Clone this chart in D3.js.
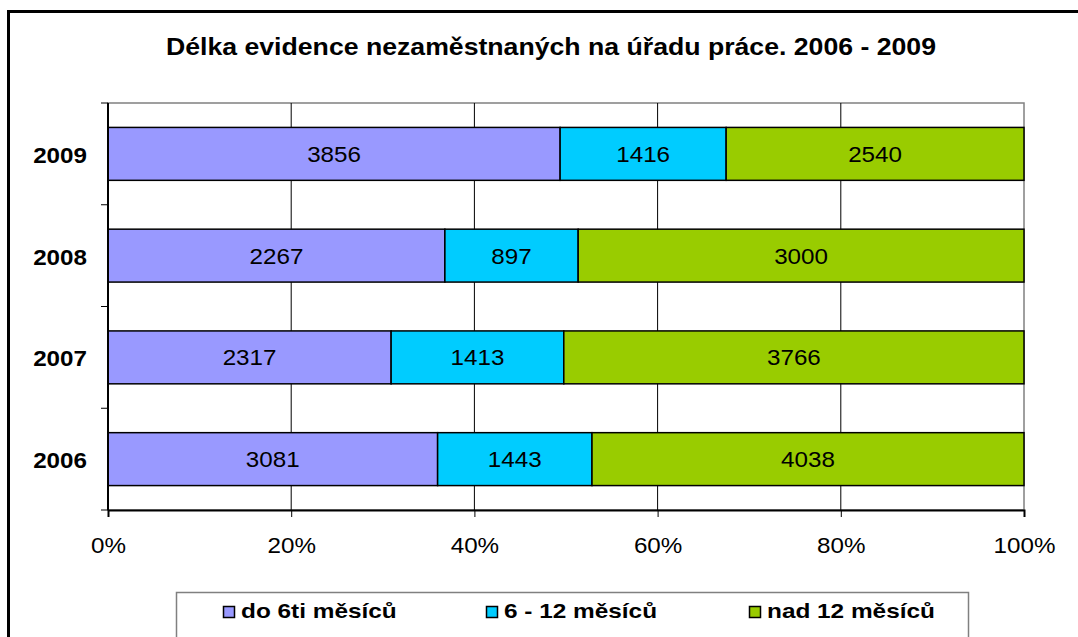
<!DOCTYPE html>
<html>
<head>
<meta charset="utf-8">
<script src="https://cdn.jsdelivr.net/npm/d3@7"></script>
<style>
	body { margin: 0; background: #fff; }
	svg { display: block; font-family: 'Liberation Sans', Arial, sans-serif; }
</style>
</head>
<body>
<div id="chart"></div>
<script>
// data
const years = [ '2009', '2008', '2007', '2006' ];
const seriesNames = [ 'do 6ti měsíců', '6 - 12 měsíců', 'nad 12 měsíců' ];
const seriesColors = [ '#9999FF', '#00CCFF', '#99CC00' ];
const do6 = [ 3856, 2267, 2317, 3081 ];
const od6do12 = [ 1416, 897, 1413, 1443 ];
const nad12 = [ 2540, 3000, 3766, 4038 ];
const xTicks = [ 0, 0.2, 0.4, 0.6, 0.8, 1 ];
const titleText = 'Délka evidence nezaměstnaných na úřadu práce. 2006 - 2009';

const width = 1078,
	height = 637;
const plot = { left: 108, right: 1024, top: 103, bottom: 510 };

const svg = d3.select('#chart').append('svg').attr('width', width).attr('height', height);

// stretch text horizontally a bit, the original looks wider than Arial
function stretch(sel, k) {
	sel.each(function() {
		const len = this.getComputedTextLength();
		d3.select(this).attr('textLength', len * k).attr('lengthAdjust', 'spacingAndGlyphs');
	});
}

// outer frame (runs off the right and bottom edge)
svg
	.append('rect')
	.attr('x', 8.5)
	.attr('y', 11.5)
	.attr('width', 1090)
	.attr('height', 660)
	.attr('fill', '#fff')
	.attr('stroke', '#000')
	.attr('stroke-width', 3);

svg
	.append('text')
	.attr('x', 551)
	.attr('y', 55)
	.attr('text-anchor', 'middle')
	.attr('font-size', 24)
	.attr('font-weight', 'bold')
	.text(titleText)
	.call(stretch, 1.11);

const table = years.map((y, i) => {
	const vals = [ do6[i], od6do12[i], nad12[i] ];
	const total = d3.sum(vals);
	let acc = 0;
	return {
		year : y,
		parts : vals.map((v, j) => {
			const p = { v: v, j: j, x0: acc / total, x1: (acc + v) / total };
			acc += v;
			return p;
		})
	};
});

const x = d3.scaleLinear().domain([ 0, 1 ]).range([ plot.left, plot.right ]);
const y = d3.scaleBand().domain(years).range([ plot.top, plot.bottom ]).padding(0);
const barH = y.bandwidth() * 0.52;

// plot area border
svg
	.append('rect')
	.attr('x', plot.left)
	.attr('y', plot.top)
	.attr('width', plot.right - plot.left)
	.attr('height', plot.bottom - plot.top)
	.attr('fill', 'none')
	.attr('stroke', '#808080')
	.attr('stroke-width', 1.5);

// vertical grid
svg
	.append('g')
	.selectAll('line')
	.data(xTicks.slice(1, -1))
	.enter()
	.append('line')
	.attr('x1', (d) => x(d))
	.attr('x2', (d) => x(d))
	.attr('y1', plot.top)
	.attr('y2', plot.bottom)
	.attr('stroke', '#000')
	.attr('stroke-width', 1);

// bars
const rows = svg
	.append('g')
	.selectAll('g')
	.data(table)
	.enter()
	.append('g')
	.attr('transform', (d) => `translate(0,${y(d.year) + (y.bandwidth() - barH) / 2})`);

rows
	.selectAll('rect')
	.data((d) => d.parts)
	.enter()
	.append('rect')
	.attr('x', (d) => x(d.x0))
	.attr('width', (d) => x(d.x1) - x(d.x0))
	.attr('height', barH)
	.attr('fill', (d) => seriesColors[d.j])
	.attr('stroke', '#000')
	.attr('stroke-width', 1.5);

rows
	.selectAll('text')
	.data((d) => d.parts)
	.enter()
	.append('text')
	.attr('x', (d) => (x(d.x0) + x(d.x1)) / 2)
	.attr('y', barH / 2 + 8)
	.attr('text-anchor', 'middle')
	.attr('font-size', 22)
	.text((d) => d.v)
	.call(stretch, 1.1);

// x axis
const xAxis = d3.axisBottom(x).tickValues(xTicks).tickFormat(d3.format('.0%')).tickSize(7).tickPadding(20);
const gx = svg.append('g').attr('transform', `translate(0,${plot.bottom})`).call(xAxis);
gx.select('.domain').attr('stroke', '#000').attr('stroke-width', 2);
gx.selectAll('.tick line').attr('stroke', '#000');
gx
	.selectAll('.tick text')
	.attr('font-size', 22)
	.attr('font-family', "'Liberation Sans', Arial, sans-serif")
	.attr('fill', '#000')
	.call(stretch, 1.1);

// y axis: ticks sit between categories like Excel does
const boundaries = years.map((d) => y(d)).concat([ plot.bottom ]);
const gy = svg.append('g');
gy
	.append('line')
	.attr('x1', plot.left)
	.attr('x2', plot.left)
	.attr('y1', plot.top)
	.attr('y2', plot.bottom)
	.attr('stroke', '#000')
	.attr('stroke-width', 2);
gy
	.selectAll('.tk')
	.data(boundaries)
	.enter()
	.append('line')
	.attr('x1', plot.left - 7)
	.attr('x2', plot.left)
	.attr('y1', (d) => d)
	.attr('y2', (d) => d)
	.attr('stroke', '#000');
gy
	.selectAll('text')
	.data(years)
	.enter()
	.append('text')
	.attr('x', 87)
	.attr('y', (d) => y(d) + y.bandwidth() / 2 + 9)
	.attr('text-anchor', 'end')
	.attr('font-size', 22)
	.attr('font-weight', 'bold')
	.text((d) => d)
	.call(stretch, 1.1);

// legend
const legend = svg.append('g');
legend
	.append('rect')
	.attr('x', 176.5)
	.attr('y', 592.5)
	.attr('width', 792)
	.attr('height', 80)
	.attr('fill', '#fff')
	.attr('stroke', '#808080')
	.attr('stroke-width', 1.5);

const legendX = d3.scalePoint().domain(seriesNames).range([ 223, 749 ]);
const items = legend
	.selectAll('g')
	.data(seriesNames)
	.enter()
	.append('g')
	.attr('transform', (d) => `translate(${legendX(d)},0)`);
items
	.append('rect')
	.attr('x', 0.5)
	.attr('y', 606.5)
	.attr('width', 11)
	.attr('height', 11)
	.attr('fill', (d, i) => seriesColors[i])
	.attr('stroke', '#000')
	.attr('stroke-width', 1.5);
items
	.append('text')
	.attr('x', 18)
	.attr('y', 618)
	.attr('font-size', 21)
	.attr('font-weight', 'bold')
	.text((d) => d)
	.call(stretch, 1.16);
</script>
</body>
</html>
